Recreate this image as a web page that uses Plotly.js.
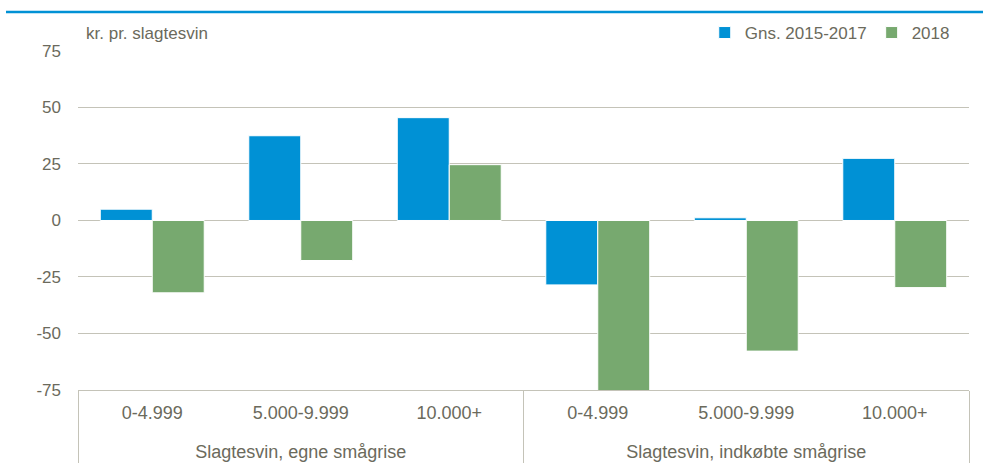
<!DOCTYPE html>
<html>
<head>
<meta charset="utf-8">
<script src="https://cdn.plot.ly/plotly-3.0.1.min.js"></script>
<style>
html,body{margin:0;padding:0;background:#fff;}
#chart{width:983px;height:468px;}
</style>
</head>
<body>
<div id="chart"></div>
<script>
const groups = ["Slagtesvin, egne smågrise","Slagtesvin, egne smågrise","Slagtesvin, egne smågrise",
                "Slagtesvin, indkøbte smågrise","Slagtesvin, indkøbte smågrise","Slagtesvin, indkøbte smågrise"];
const sizes = ["0-4.999","5.000-9.999","10.000+","0-4.999","5.000-9.999","10.000+"];
const seriesNames = ["Gns. 2015-2017","2018"];
const avg2015_2017 = [5, 37.5, 45.5, -28.5, 1.2, 27.5];
const y2018 = [-32, -17.7, 24.7, -76, -57.8, -29.7];
const yTicks = [-75,-50,-25,0,25,50,75];

// display labels for the outer level (pushed one line lower, as in the reference)
const groupLabels = groups.map(g => '<br>' + g);

const FONT = '"Liberation Sans",Arial,sans-serif';
const FS = 17;
const TXT = '#6b6a5c';
const GRID = '#c4c3b8';

const traces = [
  {type:'bar', name:seriesNames[0], x:[groupLabels,sizes], y:avg2015_2017,
   marker:{color:'#0091d5', line:{color:'#ffffff', width:1}}},
  {type:'bar', name:seriesNames[1], x:[groupLabels,sizes], y:y2018,
   marker:{color:'#77a96f', line:{color:'#ffffff', width:1}}}
];

const layout = {
  width:983, height:468,
  margin:{l:78, r:14, t:50, b:78},
  paper_bgcolor:'#fff', plot_bgcolor:'#fff',
  font:{family:FONT, size:FS, color:TXT},
  barmode:'group', bargap:0.3, bargroupgap:0,
  title:{text:'kr. pr. slagtesvin', x:0.009, xref:'paper', xanchor:'left',
         y:0.93, yref:'container', yanchor:'middle',
         font:{family:FONT, size:FS, color:TXT}},
  showlegend:true,
  legend:{orientation:'h', x:0.984, xanchor:'right', y:0.9295, yref:'container', yanchor:'middle',
          font:{family:FONT, size:FS, color:TXT}, traceorder:'normal'},
  xaxis:{type:'multicategory', showline:true, linecolor:GRID, linewidth:1,
         showdividers:true, dividercolor:GRID, dividerwidth:1,
         ticks:'', showgrid:false, zeroline:false, ticklabelstandoff:6,
         tickfont:{family:FONT, size:18, color:TXT}},
  yaxis:{range:[-75,75], tickvals:yTicks, ticktext:yTicks.map(String),
         showgrid:true, gridcolor:GRID, gridwidth:1, zeroline:false,
         showline:false, ticks:'', ticklabelstandoff:16,
         tickfont:{family:FONT, size:FS, color:TXT}},
  shapes:[{type:'line', xref:'paper', yref:'paper', x0:-0.0808, x1:1.02, y0:1.1147, y1:1.1147,
           line:{color:'#0091d5', width:2.5}}]
};
Plotly.newPlot('chart', traces, layout, {displayModeBar:false, staticPlot:true});
</script>
</body>
</html>
